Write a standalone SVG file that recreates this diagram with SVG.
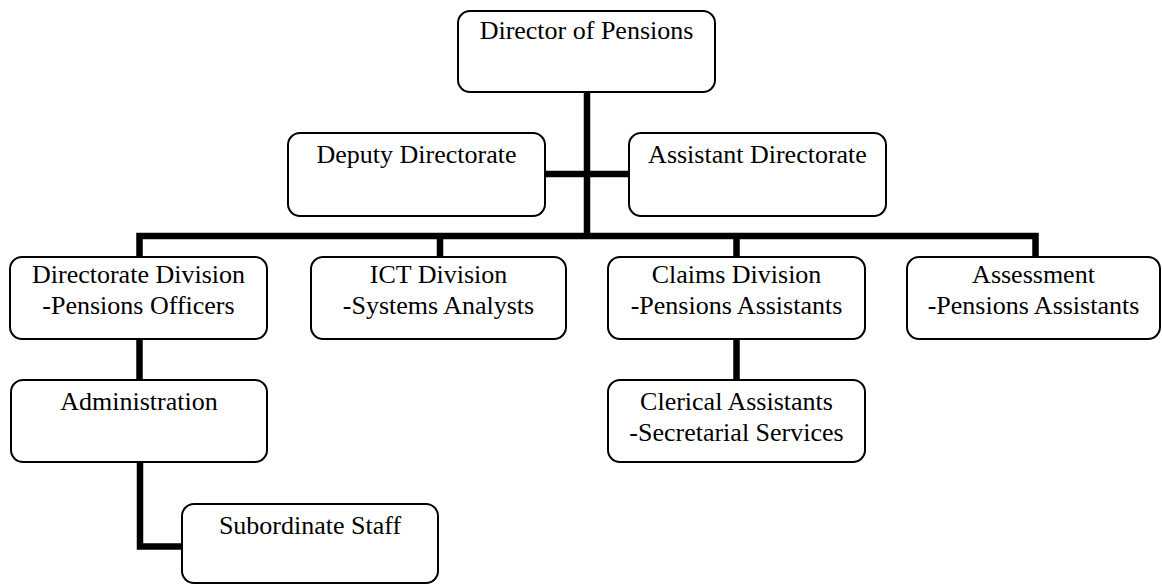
<svg xmlns="http://www.w3.org/2000/svg" width="1162" height="585" viewBox="0 0 1162 585">
<style>
.box{fill:#fff;stroke:#000;stroke-width:2}
.t{font-family:"Liberation Serif","Times New Roman",serif;font-size:26px;fill:#000;text-anchor:middle}
.c{fill:none;stroke:#000;stroke-width:6.5;stroke-linejoin:miter;stroke-linecap:butt}
</style>
<rect width="1162" height="585" fill="#fff"/>
<g id="connectors">
<path class="c" d="M587,92 V236"/>
<path class="c" d="M545,174 H629"/>
<path class="c" d="M139.5,257 V236 H1035.5 V257"/>
<path class="c" d="M440,236 V257"/>
<path class="c" d="M736.5,236 V257"/>
<path class="c" d="M139.5,339 V380"/>
<path class="c" d="M140,462 V546.5 H182"/>
<path class="c" d="M736.5,339 V380"/>
</g>
<g id="director">
<rect class="box" x="458" y="11" width="257" height="81" rx="12"/>
<text class="t" x="586.5" y="39">Director of Pensions</text>
</g>
<g id="deputy">
<rect class="box" x="288" y="133" width="257" height="83" rx="12"/>
<text class="t" x="416.5" y="163">Deputy Directorate</text>
</g>
<g id="assistant">
<rect class="box" x="629" y="133" width="257" height="83" rx="12"/>
<text class="t" x="757.5" y="163">Assistant Directorate</text>
</g>
<g id="directorate-division">
<rect class="box" x="10" y="257" width="257" height="82" rx="12"/>
<text class="t" x="138.5" y="283">Directorate Division</text>
<text class="t" x="138.5" y="314">-Pensions Officers</text>
</g>
<g id="ict-division">
<rect class="box" x="311" y="257" width="255" height="82" rx="12"/>
<text class="t" x="438.5" y="283">ICT Division</text>
<text class="t" x="438.5" y="314">-Systems Analysts</text>
</g>
<g id="claims-division">
<rect class="box" x="608" y="257" width="257" height="82" rx="12"/>
<text class="t" x="736.5" y="283">Claims Division</text>
<text class="t" x="736.5" y="314">-Pensions Assistants</text>
</g>
<g id="assessment">
<rect class="box" x="907" y="257" width="253" height="82" rx="12"/>
<text class="t" x="1033.5" y="283">Assessment</text>
<text class="t" x="1033.5" y="314">-Pensions Assistants</text>
</g>
<g id="administration">
<rect class="box" x="11" y="380" width="256" height="82" rx="12"/>
<text class="t" x="139" y="410">Administration</text>
</g>
<g id="clerical">
<rect class="box" x="608" y="380" width="257" height="82" rx="12"/>
<text class="t" x="736.5" y="410">Clerical Assistants</text>
<text class="t" x="736.5" y="441">-Secretarial Services</text>
</g>
<g id="subordinate">
<rect class="box" x="182" y="504" width="256" height="79" rx="12"/>
<text class="t" x="310" y="534">Subordinate Staff</text>
</g>
</svg>
